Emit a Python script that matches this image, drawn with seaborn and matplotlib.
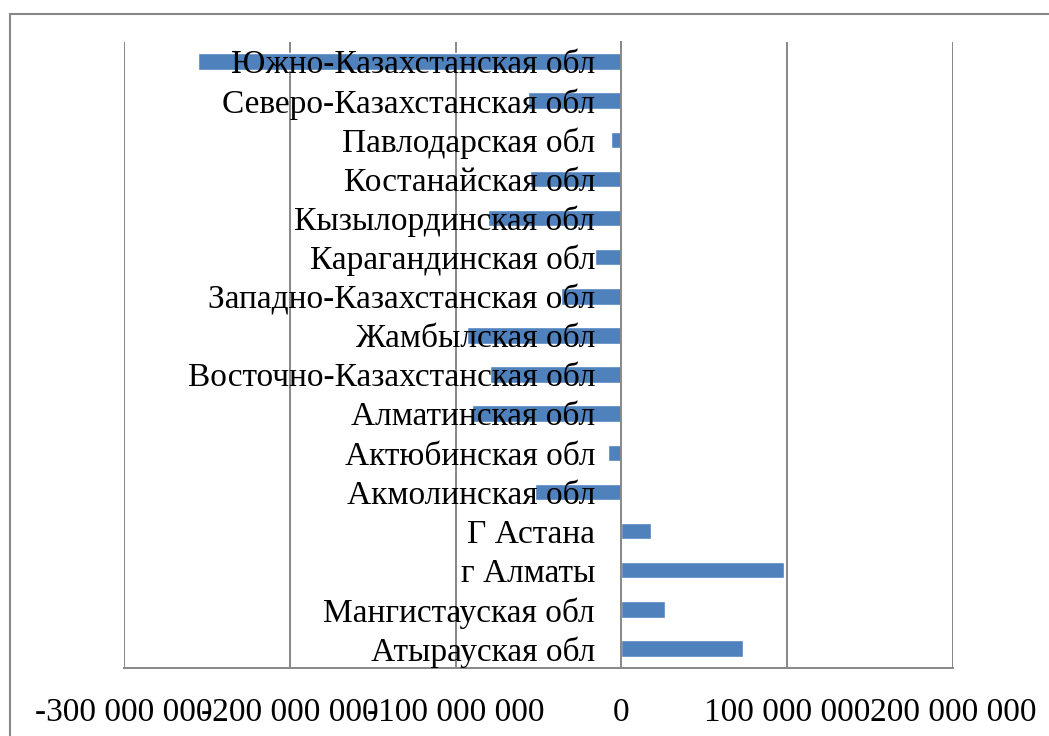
import numpy as np
import matplotlib
matplotlib.use("Agg")
import matplotlib.pyplot as plt
import matplotlib.ticker as mticker
from matplotlib.patches import Rectangle
import seaborn as sns

# regions, top to bottom as in the chart
regions = [
    "Южно-Казахстанская обл",
    "Северо-Казахстанская обл",
    "Павлодарская обл",
    "Костанайская обл",
    "Кызылординская обл",
    "Карагандинская обл",
    "Западно-Казахстанская обл",
    "Жамбылская обл",
    "Восточно-Казахстанская обл",
    "Алматинская обл",
    "Актюбинская обл",
    "Акмолинская обл",
    "Г Астана",
    "г Алматы",
    "Мангистауская обл",
    "Атырауская обл",
]
values = [
    -255.5e6, -56.5e6, -6.0e6, -55.0e6, -80.3e6, -16.0e6, -36.3e6, -93.4e6,
    -79.5e6, -90.4e6, -8.0e6, -52.2e6, 17.9e6, 97.8e6, 26.1e6, 73.5e6,
]
x_ticks = [-300e6, -200e6, -100e6, 0, 100e6, 200e6]

sns.set_style("white")
plt.rcParams["font.family"] = ["Liberation Serif", "DejaVu Serif"]
plt.rcParams["text.color"] = "black"

grey = "#878787"
fig = plt.figure(figsize=(10.49, 7.36), dpi=100)
ax = fig.add_axes([124 / 1049, 1 - 668 / 736, (953 - 124) / 1049, (668 - 42) / 736])

sns.barplot(x=values, y=regions, orient="h", color="#4F81BD", saturation=1,
            width=0.42, ax=ax)
# category labels sit on top of the bars, as in the original
for p in ax.patches:
    p.set_zorder(1)
ax.set_axisbelow(False)

ax.set_xlim(-300e6, 200e6)
ax.set_ylim(15.5, -0.5)
ax.set_xticks(x_ticks)
ax.xaxis.set_major_formatter(
    mticker.FuncFormatter(lambda v, p: f"{int(round(v)):,}".replace(",", " ")))

# vertical gridlines behind the bars
for t in x_ticks:
    if t != 0:
        ax.axvline(t, color=grey, lw=1.4, zorder=0)

for s in ["top", "right"]:
    ax.spines[s].set_visible(False)
ax.spines["left"].set_position(("data", 0))
ax.spines["left"].set_color(grey)
ax.spines["left"].set_linewidth(1.4)
ax.spines["bottom"].set_color(grey)
ax.spines["bottom"].set_linewidth(1.4)

ax.set_yticks(np.arange(-0.5, 16, 1), minor=True)
ax.tick_params(axis="y", which="major", length=0, pad=19, labelsize=24,
               labelcolor="black")
ax.tick_params(axis="y", which="minor", length=6, width=1.4, color=grey,
               direction="out")
ax.tick_params(axis="x", which="major", length=7, width=1.4, color=grey,
               direction="out", pad=14, labelsize=24, labelcolor="black")
ax.set_xlabel("")
ax.set_ylabel("")

# outer chart border
fig.patches.append(Rectangle((10 / 1049, -0.05), 1.2, 1 - 14 / 736 + 0.05,
                             transform=fig.transFigure, fill=False,
                             edgecolor=grey, lw=1.5))

fig.savefig("out.png", dpi=100)
